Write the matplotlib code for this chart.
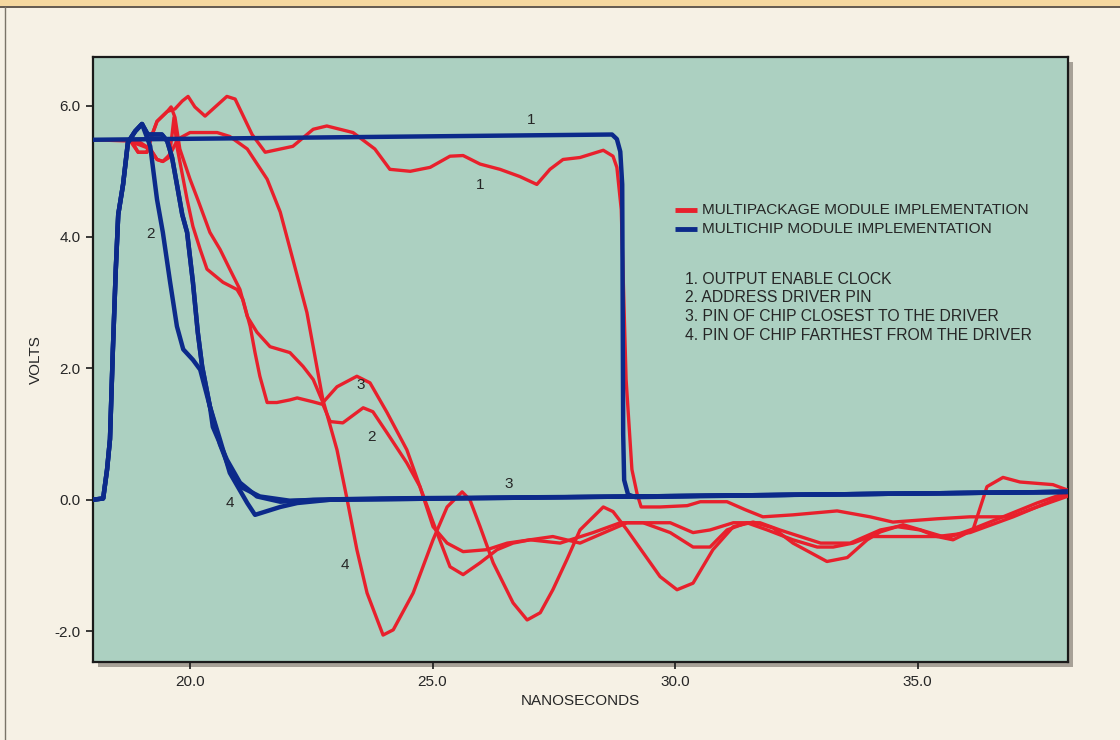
import matplotlib
matplotlib.use("Agg")
import matplotlib.pyplot as plt
from matplotlib.patches import Rectangle
from matplotlib.lines import Line2D

plt.rcParams['font.family'] = ['Liberation Sans', 'DejaVu Sans']

# ---------------- data (nanoseconds, volts) ----------------
# Multichip module (blue)
mc1_t = [18.0, 22.0, 26.0, 28.70, 28.80, 28.87, 28.91, 28.93, 28.95, 29.03, 29.18, 33.0, 38.1]
mc1_v = [5.48, 5.51, 5.54, 5.56, 5.49, 5.30, 4.80, 1.00, 0.30, 0.08, 0.04, 0.08, 0.12]

mc2_t = [18.0, 18.21, 18.29, 18.35, 18.41, 18.47, 18.52, 18.62, 18.72, 18.87, 19.01, 19.11,
         19.18, 19.28, 19.32, 19.44, 19.59, 19.73, 19.86, 20.06, 20.21, 20.41, 20.47, 20.76,
         21.03, 21.38, 21.86, 22.54, 23.92, 29.2, 33.0, 38.1]
mc2_v = [0.0, 0.02, 0.46, 0.92, 2.29, 3.51, 4.34, 4.80, 5.44, 5.61, 5.72, 5.52,
         5.38, 4.80, 4.57, 4.07, 3.31, 2.64, 2.29, 2.13, 1.98, 1.42, 1.11, 0.61,
         0.26, 0.05, -0.03, 0.0, 0.02, 0.05, 0.08, 0.12]

mc3_t = [18.0, 18.21, 18.29, 18.35, 18.41, 18.47, 18.52, 18.62, 18.72, 18.87, 19.01, 19.13,
         19.42, 19.53, 19.63, 19.73, 19.84, 19.94, 20.06, 20.16, 20.25, 20.41, 20.62, 20.82,
         21.09, 21.44, 22.06, 22.89, 29.2, 33.0, 38.1]
mc3_v = [0.0, 0.02, 0.46, 0.92, 2.29, 3.51, 4.34, 4.80, 5.44, 5.61, 5.72, 5.56,
         5.56, 5.46, 5.21, 4.80, 4.34, 4.07, 3.31, 2.55, 2.03, 1.42, 0.84, 0.46,
         0.18, 0.05, -0.015, 0.0, 0.05, 0.08, 0.12]

mc4_t = [18.0, 18.21, 18.29, 18.35, 18.41, 18.47, 18.52, 18.62, 18.72, 18.87, 19.01, 19.13,
         19.42, 19.53, 19.63, 19.73, 19.84, 19.94, 20.06, 20.16, 20.25, 20.41, 20.62, 20.82,
         21.18, 21.34, 21.86, 22.21, 22.89, 29.2, 33.0, 38.1]
mc4_v = [0.0, 0.02, 0.46, 0.92, 2.29, 3.51, 4.34, 4.80, 5.44, 5.61, 5.72, 5.56,
         5.56, 5.46, 5.21, 4.80, 4.34, 4.07, 3.31, 2.55, 2.03, 1.42, 0.91, 0.41,
         -0.05, -0.23, -0.11, -0.05, 0.0, 0.05, 0.08, 0.12]

# Multipackage module (red)
mp1_t = [18.0, 18.80, 18.93, 19.11, 19.22, 19.32, 19.53, 19.69, 19.84, 19.96, 20.10, 20.31,
         20.76, 20.93, 21.28, 21.55, 22.12, 22.54, 22.82, 23.36, 23.81, 24.12, 24.54, 24.95,
         25.36, 25.63, 25.98, 26.39, 26.80, 27.15, 27.42, 27.69, 28.04, 28.52, 28.72, 28.80,
         28.89, 28.99, 29.11, 29.22, 29.30, 29.69, 30.25, 30.52, 31.07, 31.44, 31.81, 32.43,
         33.34, 34.02, 34.49, 35.40, 36.08, 36.91, 37.46, 38.08]
mp1_v = [5.48, 5.46, 5.29, 5.29, 5.56, 5.76, 5.91, 5.95, 6.07, 6.14, 5.98, 5.84,
         6.14, 6.10, 5.56, 5.29, 5.38, 5.64, 5.69, 5.59, 5.34, 5.03, 5.00, 5.06,
         5.23, 5.24, 5.11, 5.03, 4.92, 4.80, 5.03, 5.18, 5.21, 5.32, 5.23, 5.06,
         4.42, 1.83, 0.46, 0.08, -0.11, -0.11, -0.09, -0.03, -0.03, -0.15, -0.26, -0.23,
         -0.17, -0.26, -0.34, -0.29, -0.26, -0.26, -0.11, 0.05]

mp2_t = [18.72, 18.97, 19.18, 19.32, 19.44, 19.57, 19.63, 19.67, 19.73, 19.86, 19.94, 20.06,
         20.21, 20.35, 20.68, 20.97, 21.09, 21.24, 21.34, 21.44, 21.59, 21.79, 22.06, 22.21,
         22.54, 22.74, 22.89, 23.15, 23.57, 23.77, 24.06, 24.47, 24.74, 25.09, 25.36, 25.63,
         25.98, 26.33, 26.66, 27.01, 27.63, 28.31, 28.87, 29.34, 29.90, 30.37, 30.72, 31.07,
         31.48, 31.90, 32.43, 32.93, 33.26, 33.67, 34.02, 34.70, 35.40, 36.08, 36.97, 37.46, 38.08]
mp2_v = [5.47, 5.44, 5.34, 5.18, 5.15, 5.21, 5.56, 5.82, 5.38, 4.88, 4.57, 4.16,
         3.81, 3.51, 3.31, 3.20, 3.05, 2.64, 2.24, 1.88, 1.48, 1.48, 1.52, 1.55,
         1.49, 1.45, 1.19, 1.17, 1.40, 1.34, 1.02, 0.56, 0.20, -0.50, -1.02, -1.14,
         -0.96, -0.76, -0.66, -0.61, -0.66, -0.50, -0.35, -0.35, -0.50, -0.72, -0.72, -0.46,
         -0.35, -0.46, -0.61, -0.72, -0.72, -0.66, -0.56, -0.56, -0.56, -0.50, -0.26, -0.11, 0.08]

mp3_t = [18.76, 18.93, 19.11, 19.22, 19.32, 19.53, 19.61, 19.69, 19.79, 20.00, 20.16, 20.41,
         20.62, 20.82, 21.03, 21.18, 21.38, 21.65, 22.06, 22.33, 22.54, 22.74, 23.03, 23.44,
         23.71, 24.06, 24.47, 24.74, 25.01, 25.30, 25.63, 26.12, 26.54, 27.01, 27.48, 28.04,
         29.01, 29.90, 30.37, 30.72, 31.20, 31.75, 32.16, 32.58, 33.00, 33.61, 34.23, 34.58,
         35.05, 35.40, 35.73, 36.14, 36.43, 36.76, 37.11, 37.79, 38.08]
mp3_v = [5.47, 5.29, 5.29, 5.56, 5.76, 5.91, 5.98, 5.82, 5.34, 4.88, 4.57, 4.07,
         3.81, 3.51, 3.20, 2.79, 2.55, 2.33, 2.24, 2.03, 1.83, 1.48, 1.72, 1.88,
         1.78, 1.33, 0.76, 0.20, -0.41, -0.66, -0.79, -0.76, -0.66, -0.61, -0.56, -0.66,
         -0.35, -0.35, -0.50, -0.46, -0.35, -0.35, -0.46, -0.56, -0.66, -0.66, -0.46, -0.41,
         -0.46, -0.56, -0.61, -0.46, 0.20, 0.34, 0.27, 0.23, 0.15]

mp4_t = [18.68, 18.97, 19.18, 19.32, 19.44, 19.59, 19.75, 20.00, 20.56, 20.82, 21.18, 21.59,
         21.86, 22.12, 22.41, 22.74, 23.03, 23.24, 23.44, 23.65, 23.98, 24.19, 24.60, 25.01,
         25.30, 25.61, 25.77, 25.98, 26.25, 26.66, 26.95, 27.22, 27.48, 27.77, 28.04, 28.52,
         28.72, 29.01, 29.69, 30.04, 30.37, 30.78, 31.20, 31.61, 32.02, 32.43, 33.13, 33.55,
         33.96, 34.23, 34.70, 35.20, 35.61, 36.08, 36.76, 37.46, 38.08]
mp4_v = [5.47, 5.40, 5.34, 5.18, 5.15, 5.26, 5.49, 5.59, 5.59, 5.53, 5.34, 4.88,
         4.38, 3.66, 2.85, 1.52, 0.76, 0.0, -0.76, -1.42, -2.06, -1.98, -1.42, -0.61,
         -0.11, 0.12, 0.0, -0.41, -0.96, -1.57, -1.83, -1.72, -1.37, -0.91, -0.46, -0.11,
         -0.18, -0.46, -1.17, -1.37, -1.27, -0.76, -0.41, -0.34, -0.43, -0.66, -0.94, -0.88,
         -0.61, -0.49, -0.38, -0.49, -0.58, -0.46, -0.26, -0.05, 0.11]

x_ticks = [20.0, 25.0, 30.0, 35.0]
y_ticks = [-2.0, 0.0, 2.0, 4.0, 6.0]

legend_labels = ["MULTIPACKAGE MODULE IMPLEMENTATION", "MULTICHIP MODULE IMPLEMENTATION"]
notes = ["1. OUTPUT ENABLE CLOCK", "2. ADDRESS DRIVER PIN",
         "3. PIN OF CHIP CLOSEST TO THE DRIVER", "4. PIN OF CHIP FARTHEST FROM THE DRIVER"]

curve_labels = [("1", 27.03, 5.78), ("1", 25.98, 4.79), ("2", 19.18, 4.04), ("3", 23.51, 1.75),
                ("2", 23.75, 0.95), ("3", 26.56, 0.24), ("4", 20.82, -0.05), ("4", 23.20, -0.99)]

# ---------------- styling ----------------
RED = '#e8202c'
BLUE = '#0c2a8a'
PLOT_BG = '#acd0c1'
PAGE_BG = '#f6f1e5'
STRIP = '#f5d8a0'
TXT = '#262626'

W, H = 1120, 740
fig = plt.figure(figsize=(W / 100, H / 100), dpi=100, facecolor=PAGE_BG)

# top strip and border
fig.patches.append(Rectangle((0, 1 - 6 / H), 1, 6 / H, transform=fig.transFigure,
                             facecolor=STRIP, edgecolor='none', zorder=-2))
fig.add_artist(Line2D([0, 1], [1 - 6.5 / H, 1 - 6.5 / H], transform=fig.transFigure,
                      color='#4a4036', lw=1.2, zorder=-1))
fig.add_artist(Line2D([5 / W, 5 / W], [0, 1 - 6.5 / H], transform=fig.transFigure,
                      color='#7a7468', lw=1.0, zorder=-1))

left, right, bottom, top = 93 / W, 1068 / W, 1 - 662 / H, 1 - 57 / H
# drop shadow
fig.patches.append(Rectangle((left + 5 / W, bottom - 5 / H), right - left, top - bottom,
                             transform=fig.transFigure, facecolor='#8d877d',
                             edgecolor='none', alpha=0.75, zorder=-2))

ax = fig.add_axes([left, bottom, right - left, top - bottom])
ax.set_zorder(2)
ax.set_facecolor(PLOT_BG)
ax.set_xlim(18.0, 38.1)
ax.set_ylim(-2.47, 6.74)

lw_r, lw_b = 2.4, 3.2
for t, v in [(mp1_t, mp1_v), (mp2_t, mp2_v), (mp3_t, mp3_v), (mp4_t, mp4_v)]:
    ax.plot(t, v, color=RED, lw=lw_r, solid_joinstyle='round', solid_capstyle='round', zorder=3)
for t, v in [(mc1_t, mc1_v), (mc2_t, mc2_v), (mc3_t, mc3_v), (mc4_t, mc4_v)]:
    ax.plot(t, v, color=BLUE, lw=lw_b, solid_joinstyle='round', solid_capstyle='round', zorder=4)

for s in ax.spines.values():
    s.set_color('#1a1a1a')
    s.set_linewidth(1.6)

ax.set_xticks(x_ticks)
ax.set_xticklabels([f"{v:.1f}" for v in x_ticks])
ax.set_yticks(y_ticks)
ax.set_yticklabels([f"{v:.1f}" for v in y_ticks])
ax.tick_params(direction='out', length=5, width=1.2, color='#1a1a1a',
               labelsize=11, labelcolor=TXT, pad=4)

ax.set_xlabel("NANOSECONDS", fontsize=11, color=TXT, labelpad=4)
ax.set_ylabel("VOLTS", fontsize=11, color=TXT, labelpad=8)

for s, x, y in curve_labels:
    ax.text(x, y, s, fontsize=11, color=TXT, ha='center', va='center', zorder=5)

# legend (manual)
lx0, lx1, ltx = 675 / W, 697 / W, 702 / W
for i, (lab, col) in enumerate(zip(legend_labels, [RED, BLUE])):
    yy = 1 - (210 + i * 19) / H
    ax.add_artist(Line2D([lx0, lx1], [yy, yy], transform=fig.transFigure, color=col, lw=3.5,
                         solid_capstyle='butt', zorder=6))
    ax.text(ltx, yy, lab, transform=fig.transFigure, fontsize=11.1, color=TXT,
            ha='left', va='center', zorder=6)

for i, n in enumerate(notes):
    yy = 1 - (279 + i * 19) / H
    ax.text(685 / W, yy, n, transform=fig.transFigure, fontsize=11.3, color=TXT,
            ha='left', va='center', zorder=6)

fig.savefig("out.png", dpi=100, facecolor=fig.get_facecolor())
